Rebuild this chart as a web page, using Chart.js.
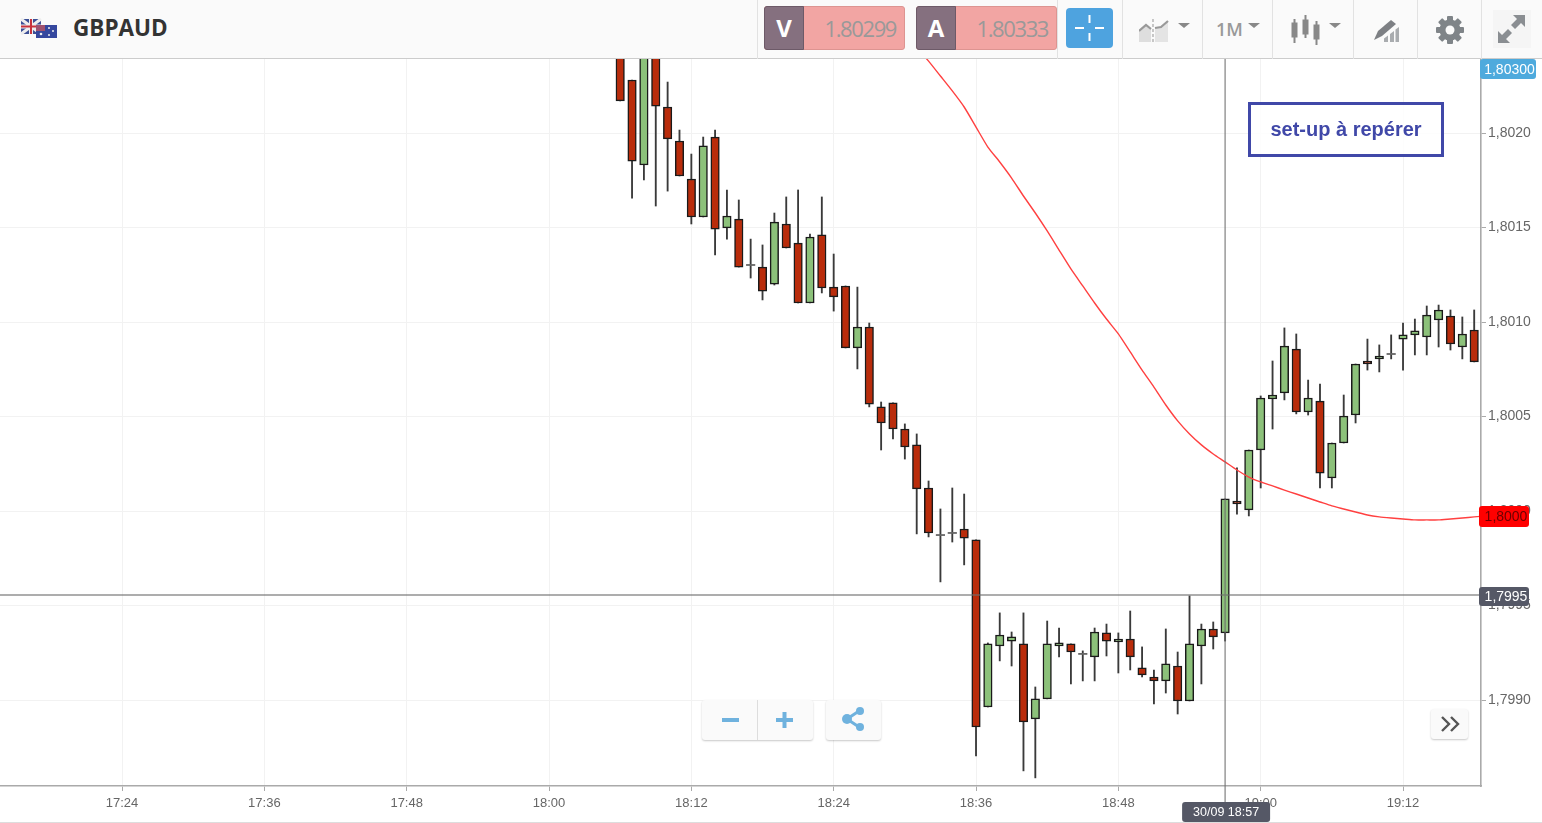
<!DOCTYPE html>
<html>
<head>
<meta charset="utf-8">
<title>GBPAUD</title>
<script src="https://cdn.jsdelivr.net/npm/chart.js@4/dist/chart.umd.min.js"></script>
<style>
  html, body { margin: 0; padding: 0; background: #fff; }
  #wrap { position: relative; width: 1542px; height: 823px; overflow: hidden; font-family: "Open Sans", sans-serif; }
  #wrap canvas { position: absolute; left: 0; top: 0; }
  .abs { position: absolute; box-sizing: border-box; }
  #topbar { left: 0; top: 0; width: 1542px; height: 59px; background: #fafafa; border-bottom: 1px solid #ccc; }
  .sep { top: 0; width: 1px; height: 59px; background: #e2e2e2; }
  #pair { left: 73px; top: 12px; font-size: 22.5px; font-weight: 700; color: #333; line-height: 32px; }
  .quote { top: 6px; width: 141px; height: 44px; background: #f2a5a3; border: 1px solid #dd9491; border-radius: 3px; color: #999; font-size: 22px; line-height: 42px; text-align: right; padding-right: 8px; letter-spacing: -1.4px; }
  .quote b { position: absolute; left: -1px; top: -1px; width: 40px; height: 44px; background: #85707f; border: 1px solid #6d5a68; box-sizing: border-box; border-radius: 3px 0 0 3px; color: #fff; font-size: 24px; font-weight: 700; text-align: center; line-height: 42px; letter-spacing: 0; }
  #cross { left: 1066px; top: 8px; width: 47px; height: 40px; background: #4ea3df; border-radius: 4px; }
  #tf { left: 1216px; top: 17px; font-size: 18px; font-weight: 600; color: #999; line-height: 24px; }
  .caret { width: 0; height: 0; border-left: 6px solid transparent; border-right: 6px solid transparent; border-top: 5px solid #888; }
  #note { left: 1248px; top: 102px; width: 196px; height: 55px; background: rgba(255,255,255,.85); border: 3px solid #4048a8; color: #4048a8; font-family: "Liberation Sans", sans-serif; font-size: 20px; font-weight: 700; text-align: center; line-height: 48px; }
  .btn { background: #fafafa; border-radius: 3px; box-shadow: 0 1px 2px rgba(0,0,0,.22); }
</style>
</head>
<body>
<div id="wrap">
  <canvas id="chart" width="1542" height="823"></canvas>

  <div class="abs" id="topbar"></div>
  <div class="abs sep" style="left:757px"></div>
  <div class="abs sep" style="left:1057px"></div>
  <div class="abs sep" style="left:1122px"></div>
  <div class="abs sep" style="left:1202px"></div>
  <div class="abs sep" style="left:1272px"></div>
  <div class="abs sep" style="left:1353px"></div>
  <div class="abs sep" style="left:1417px"></div>
  <div class="abs sep" style="left:1481px"></div>

  <svg class="abs" style="left:20px;top:18px" width="38" height="21" viewBox="0 0 38 21">
    <rect x="1" y="1" width="20" height="15" fill="#3c4f96"/>
    <path d="M1 1L21 16M21 1L1 16" stroke="#eee" stroke-width="3"/>
    <path d="M11 1V16M1 8.5H21" stroke="#eee" stroke-width="4"/>
    <path d="M11 1V16M1 8.5H21" stroke="#c8323c" stroke-width="2"/>
    <rect x="16" y="7" width="21" height="13" fill="#35479e"/>
    <rect x="16" y="7" width="9" height="6" fill="#a0526f"/>
    <circle cx="29" cy="10" r="1" fill="#eee"/><circle cx="33" cy="13" r="1" fill="#eee"/>
    <circle cx="29" cy="17" r="1" fill="#eee"/><circle cx="21" cy="16" r="1.3" fill="#eee"/>
  </svg>
  <div class="abs" id="pair">GBPAUD</div>

  <div class="abs quote" style="left:764px"><b>V</b>1.80299</div>
  <div class="abs quote" style="left:916px"><b>A</b>1.80333</div>
  <div class="abs" id="cross">
    <svg width="47" height="40"><path d="M23.5 7V15M23.5 25V33M9 20H18M29 20H38" stroke="#fff" stroke-width="2"/></svg>
  </div>

  <svg class="abs" style="left:1139px;top:19px" width="30" height="24" viewBox="0 0 30 24">
    <path d="M0 12L7 6L12 10V23H0Z" fill="#dedede"/>
    <path d="M16 9L22 8L29 2V23H16Z" fill="#e4e4e4"/>
    <path d="M0 12L7 6L12 10" stroke="#999" stroke-width="2.2" fill="none"/>
    <path d="M16 9L22 8L29 2" stroke="#999" stroke-width="2.2" fill="none"/>
    <path d="M14 0V24" stroke="#a5a5a5" stroke-width="1.2" stroke-dasharray="3 2"/>
  </svg>
  <div class="abs caret" style="left:1178px;top:23px"></div>
  <div class="abs" id="tf">1M</div>
  <div class="abs caret" style="left:1248px;top:23px"></div>
  <svg class="abs" style="left:1290px;top:14px" width="32" height="32" viewBox="0 0 32 32" fill="#888" stroke="#888">
    <rect x="2" y="9" width="5" height="14"/><path d="M4.5 5V29" stroke-width="2"/>
    <rect x="13" y="6" width="5" height="14"/><path d="M15.5 1V24" stroke-width="2"/>
    <rect x="24" y="11" width="5" height="14"/><path d="M26.5 7V31" stroke-width="2"/>
  </svg>
  <div class="abs caret" style="left:1329px;top:23px"></div>
  <svg class="abs" style="left:1372px;top:18px" width="30" height="26" viewBox="0 0 30 26">
    <path d="M18 24V16L22 13V24ZM23.5 24V11.5L27 9V24ZM12 24V20.5L16 17.5V24Z" fill="#a9acaf"/>
    <path d="M6 13L19 2L24 6L10 18L2 22Z" fill="#7d8084"/>
  </svg>
  <svg class="abs" style="left:1435px;top:15px" width="30" height="30" viewBox="0 0 30 30">
    <g fill="#7f8488">
      <rect x="12" y="1" width="6" height="28" rx="1"/>
      <rect x="12" y="1" width="6" height="28" rx="1" transform="rotate(45 15 15)"/>
      <rect x="12" y="1" width="6" height="28" rx="1" transform="rotate(90 15 15)"/>
      <rect x="12" y="1" width="6" height="28" rx="1" transform="rotate(135 15 15)"/>
    </g>
    <circle cx="15" cy="15" r="7.5" fill="none" stroke="#7f8488" stroke-width="6"/>
    <circle cx="15" cy="15" r="4.5" fill="#fafafa"/>
  </svg>
  <div class="abs" style="left:1493px;top:10px;width:38px;height:38px;background:#f5f5f5"></div>
  <svg class="abs" style="left:1497px;top:14px" width="30" height="30" viewBox="0 0 30 30" fill="#8a8e92">
    <path d="M16 1H28V13L24 9L18 15L14 11L20 5Z"/>
    <path d="M1 17V29H13L9 25L15 19L11 15L5 21Z"/>
  </svg>

  <div class="abs" id="note">set-up à repérer</div>

  <div class="abs btn" style="left:702px;top:700px;width:111px;height:40px"></div>
  <div class="abs" style="left:757px;top:700px;width:1px;height:40px;background:#ddd"></div>
  <svg class="abs" style="left:702px;top:700px" width="111" height="40"><path d="M20 20H37M74 20H91M82.5 12V28" stroke="#6fb2de" stroke-width="4"/></svg>
  <div class="abs btn" style="left:826px;top:700px;width:55px;height:40px"></div>
  <svg class="abs" style="left:826px;top:700px" width="55" height="40">
    <path d="M33 11L21 19L33 27" stroke="#6fb2de" stroke-width="3" fill="none"/>
    <circle cx="21" cy="19" r="5" fill="#6fb2de"/><circle cx="34" cy="11" r="4" fill="#6fb2de"/><circle cx="34" cy="27" r="4" fill="#6fb2de"/>
  </svg>
  <div class="abs btn" style="left:1431px;top:709px;width:37px;height:30px"></div>
  <svg class="abs" style="left:1431px;top:709px" width="37" height="30"><path d="M11 8L18 15L11 22M20 8L27 15L20 22" stroke="#555" stroke-width="2.4" fill="none"/></svg>
  <div class="abs" style="left:0;top:822px;width:1542px;height:1px;background:#ddd"></div>
</div>

<script>
const times = ['18:06','18:07','18:08','18:09','18:10','18:11','18:12','18:13','18:14','18:15','18:16','18:17','18:18','18:19','18:20','18:21','18:22','18:23','18:24','18:25','18:26','18:27','18:28','18:29','18:30','18:31','18:32','18:33','18:34','18:35','18:36','18:37','18:38','18:39','18:40','18:41','18:42','18:43','18:44','18:45','18:46','18:47','18:48','18:49','18:50','18:51','18:52','18:53','18:54','18:55','18:56','18:57','18:58','18:59','19:00','19:01','19:02','19:03','19:04','19:05','19:06','19:07','19:08','19:09','19:10','19:11','19:12','19:13','19:14','19:15','19:16','19:17','19:18'];

const opens = [1.802492,1.802281,1.801831,1.802519,1.802138,1.801958,1.801757,1.801556,1.801979,1.801498,1.801545,1.801302,1.801291,1.801201,1.801519,1.801418,1.801101,1.801461,1.801185,1.801191,1.800863,1.800974,1.800551,1.800572,1.800434,1.800350,1.800122,1.799873,1.799884,1.799905,1.799847,1.798963,1.799286,1.799312,1.799297,1.798900,1.799006,1.799286,1.799297,1.799244,1.799228,1.799355,1.799307,1.799323,1.799170,1.799122,1.799101,1.799180,1.798995,1.799286,1.799376,1.799355,1.800053,1.800006,1.800323,1.800593,1.800625,1.800857,1.800524,1.800582,1.800175,1.800360,1.800508,1.800794,1.800805,1.800831,1.800910,1.800932,1.800921,1.801011,1.801032,1.800868,1.800958];
const highs = [1.802492,1.802281,1.802572,1.802519,1.802270,1.802016,1.801889,1.801979,1.802016,1.801699,1.801646,1.801439,1.801408,1.801577,1.801662,1.801699,1.801466,1.801662,1.801360,1.801191,1.801185,1.800995,1.800577,1.800572,1.800461,1.800408,1.800159,1.800011,1.800122,1.800090,1.799847,1.799302,1.799461,1.799360,1.799461,1.799069,1.799418,1.799381,1.799297,1.799260,1.799381,1.799402,1.799355,1.799471,1.799281,1.799159,1.799376,1.799254,1.799551,1.799402,1.799413,1.800064,1.800228,1.800323,1.800609,1.800794,1.800969,1.800937,1.800693,1.800672,1.800360,1.800614,1.800778,1.800910,1.800879,1.800932,1.800995,1.801016,1.801085,1.801090,1.801064,1.801027,1.801064];
const lows = [1.802170,1.801656,1.801752,1.801614,1.801693,1.801773,1.801519,1.801556,1.801355,1.801439,1.801291,1.801233,1.801117,1.801196,1.801392,1.801101,1.801101,1.801154,1.801058,1.800863,1.800752,1.800551,1.800323,1.800381,1.800275,1.799879,1.799863,1.799625,1.799836,1.799715,1.798704,1.798963,1.799207,1.799180,1.798625,1.798588,1.799006,1.799228,1.799085,1.799101,1.799101,1.799233,1.799143,1.799159,1.799122,1.798979,1.799037,1.798926,1.798995,1.799085,1.799270,1.799312,1.799984,1.799974,1.800122,1.800434,1.800588,1.800514,1.800508,1.800122,1.800122,1.800360,1.800466,1.800746,1.800736,1.800805,1.800746,1.800826,1.800826,1.800868,1.800852,1.800805,1.800789];
const closes = [1.802170,1.801852,1.802545,1.802143,1.801969,1.801773,1.801556,1.801932,1.801492,1.801561,1.801291,1.801302,1.801164,1.801529,1.801392,1.801101,1.801450,1.801180,1.801133,1.800863,1.800974,1.800566,1.800466,1.800434,1.800339,1.800117,1.799884,1.799873,1.799884,1.799857,1.798857,1.799297,1.799344,1.799334,1.798884,1.799006,1.799297,1.799302,1.799254,1.799244,1.799360,1.799312,1.799323,1.799228,1.799133,1.799101,1.799191,1.798995,1.799297,1.799376,1.799334,1.800064,1.800037,1.800323,1.800598,1.800614,1.800873,1.800524,1.800598,1.800201,1.800360,1.800503,1.800778,1.800778,1.800820,1.800831,1.800932,1.800953,1.801037,1.801064,1.800884,1.800937,1.800789];

const maTimes = ['18:31','18:32','18:33','18:34','18:35','18:36','18:37','18:38','18:39','18:40','18:41','18:42','18:43','18:44','18:45','18:46','18:47','18:48','18:49','18:50','18:51','18:52','18:53','18:54','18:55','18:56','18:57','18:58','18:59','19:00','19:01','19:02','19:03','19:04','19:05','19:06','19:07','19:08','19:09','19:10','19:11','19:12','19:13','19:14','19:15','19:16','19:17','19:18','19:19'];
const maValues = [1.802450,1.802381,1.802302,1.802223,1.802138,1.802032,1.801926,1.801847,1.801762,1.801667,1.801577,1.801482,1.801381,1.801281,1.801191,1.801101,1.801016,1.800937,1.800842,1.800746,1.800656,1.800561,1.800477,1.800408,1.800350,1.800302,1.800260,1.800217,1.800180,1.800154,1.800133,1.800111,1.800090,1.800069,1.800048,1.800027,1.800011,1.799995,1.799979,1.799969,1.799963,1.799958,1.799953,1.799953,1.799953,1.799958,1.799963,1.799969,1.799974];

const crossTime = '18:57';
const crossPrice = 1.799556;
const crossPriceLabel = '1,7995';
const crossTimeLabel = '30/09 18:57';
const bidLabel = '1,80300';
const maLabel = '1,8000';

const toMinutes = t => { const [h, m] = t.split(':').map(Number); return h * 60 + m; };
const fmtTime = v => `${Math.floor(v / 60)}:${String(v % 60).padStart(2, '0')}`;

const RED = '#b92c0b';
const GREEN = '#8cc17a';
const isDoji = i => opens[i] === closes[i];

const wickData = times.map((t, i) => ({ x: toMinutes(t), y: [lows[i], highs[i]] }));
const bodyData = times.map((t, i) => ({
  x: toMinutes(t),
  y: isDoji(i) ? [closes[i] - 0.000003, closes[i] + 0.000003] : [opens[i], closes[i]]
}));
const maData = maTimes.map((t, i) => ({ x: toMinutes(t), y: maValues[i] }));

function tag(ctx, x, y, w, h, bg, fg, text, size, dx) {
  ctx.fillStyle = bg;
  ctx.beginPath();
  ctx.roundRect(x, y, w, h, 3);
  ctx.fill();
  ctx.fillStyle = fg;
  ctx.font = `${size}px "Liberation Sans"`;
  ctx.textAlign = 'center';
  ctx.textBaseline = 'middle';
  ctx.fillText(text, x + w / 2 + dx, y + h / 2 + 1);
}

const overlay = {
  id: 'overlay',
  afterDraw(chart) {
    const { ctx, scales: { x, y }, chartArea } = chart;
    const cx = x.getPixelForValue(toMinutes(crossTime));
    const cy = y.getPixelForValue(crossPrice);
    ctx.save();
    ctx.strokeStyle = 'rgba(110,110,110,0.75)';
    ctx.lineWidth = 1.4;
    ctx.beginPath();
    ctx.moveTo(cx, chartArea.top);
    ctx.lineTo(cx, 806);
    ctx.moveTo(0, cy);
    ctx.lineTo(chartArea.right, cy);
    ctx.stroke();

    tag(ctx, chartArea.right - 1, 59, 56, 20, '#4eaadd', '#fff', bidLabel, 14, 1.5);
    const my = y.getPixelForValue(maValues[maValues.length - 1]);
    tag(ctx, chartArea.right - 2, my - 10, 50, 21, '#ff0000', '#6b0000', maLabel, 14, 2);
    tag(ctx, chartArea.right - 2, cy - 8, 50, 19, '#555866', '#fff', crossPriceLabel, 14, 2);
    tag(ctx, cx - 43, 802, 88, 20, '#555866', '#fff', crossTimeLabel, 12.5, 0);
    ctx.restore();
  }
};

new Chart(document.getElementById('chart'), {
  type: 'bar',
  data: {
    datasets: [
      {
        type: 'line',
        data: maData,
        borderColor: '#ff4040',
        borderWidth: 1.4,
        pointRadius: 0,
        tension: 0.2,
        order: 1
      },
      {
        data: bodyData,
        grouped: false,
        barThickness: 8.5,
        backgroundColor: times.map((t, i) => isDoji(i) ? '#666' : (closes[i] < opens[i] ? RED : GREEN)),
        borderColor: times.map((t, i) => isDoji(i) ? '#666' : '#1a1a1a'),
        borderWidth: times.map((t, i) => isDoji(i) ? 0 : 1.5),
        borderSkipped: false,
        order: 2
      },
      {
        data: wickData,
        grouped: false,
        barThickness: 1.2,
        backgroundColor: '#3a3a3a',
        order: 3
      }
    ]
  },
  options: {
    responsive: false,
    devicePixelRatio: 1,
    animation: false,
    events: [],
    layout: { padding: { top: 59, left: 0, right: 0, bottom: 0 } },
    plugins: { legend: { display: false }, tooltip: { enabled: false } },
    scales: {
      x: {
        type: 'linear',
        offset: false,
        min: 1033.714,
        max: 1158.574,
        afterFit: s => { s.height = 37; },
        grid: { offset: false, color: '#f2f2f2', tickColor: '#aaa', tickLength: 5 },
        border: { color: '#aaa', width: 1.6 },
        ticks: {
          stepSize: 12,
          includeBounds: false,
          autoSkip: false,
          maxRotation: 0,
          padding: 5,
          color: '#666',
          font: { family: '"Liberation Sans"', size: 13 },
          callback: v => fmtTime(v)
        }
      },
      y: {
        position: 'right',
        min: 1.798545,
        max: 1.802392,
        afterFit: s => { s.width = 61; },
        grid: { color: '#f2f2f2', tickColor: '#aaa', tickLength: 5 },
        border: { color: '#aaa', width: 1.6 },
        ticks: {
          stepSize: 0.0005,
          includeBounds: false,
          padding: 2,
          color: '#666',
          font: { family: '"Liberation Sans"', size: 14 },
          callback: v => v.toFixed(4).replace('.', ',')
        }
      }
    }
  },
  plugins: [overlay]
});
</script>
</body>
</html>
